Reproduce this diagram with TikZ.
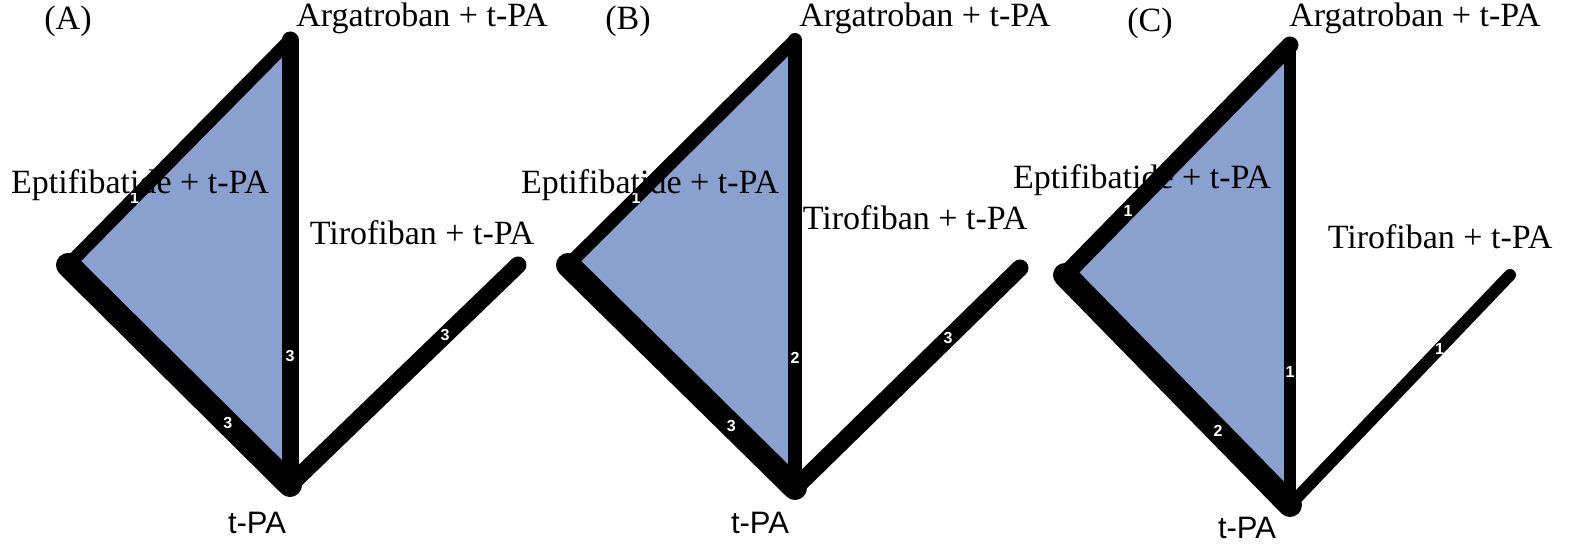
\documentclass[tikz,border=0pt]{standalone}
\usepackage{fontspec}
\setmainfont{Liberation Serif}
\setsansfont{Liberation Sans}
\begin{document}
\begin{tikzpicture}[x=1pt,y=-1pt,
  ed/.style={line cap=round,draw=black},
  num/.style={font=\sffamily\bfseries\fontsize{16}{16}\selectfont,text=white,inner sep=0pt},
  lab/.style={font=\fontsize{34}{34}\selectfont,inner sep=0pt},
  tp/.style={font=\sffamily\fontsize{31}{31}\selectfont,inner sep=0pt}]
\useasboundingbox (0,0) rectangle (1575,545);
\definecolor{fillb}{HTML}{8AA0CF}
% ---------- Panel A
\coordinate (aT) at (290,40); \coordinate (aL) at (68,265);
\coordinate (aB) at (290,485); \coordinate (aR) at (518,265);
\fill[fillb] (aT)--(aL)--(aB)--cycle;
\draw[ed,line width=13] (aT)--(aL) node[num,pos=0.7]{1};
\draw[ed,line width=24] (aL)--(aB) node[num,pos=0.72]{3};
\draw[ed,line width=17] (aT)--(aB) node[num,pos=0.71]{3};
\draw[ed,line width=17] (aB)--(aR) node[num,pos=0.68]{3};
\node[lab] (aLab) at (68,21) {(A)};
\node[lab] (aTl) at (422,18) {Argatroban + t-PA};
\node[lab] (aLl) at (140,185) {Eptifibatide + t-PA};
\node[lab] (aRl) at (422,233) {Tirofiban + t-PA};
\node[tp] (aBl) at (257,523) {t-PA};
% ---------- Panel B
\coordinate (bT) at (795,40); \coordinate (bL) at (568,265);
\coordinate (bB) at (795,488); \coordinate (bR) at (1020,268);
\fill[fillb] (bT)--(bL)--(bB)--cycle;
\draw[ed,line width=13] (bT)--(bL) node[num,pos=0.7]{1};
\draw[ed,line width=24] (bL)--(bB) node[num,pos=0.72]{3};
\draw[ed,line width=14] (bT)--(bB) node[num,pos=0.71]{2};
\draw[ed,line width=17] (bB)--(bR) node[num,pos=0.68]{3};
\node[lab] (bLab) at (628,21) {(B)};
\node[lab] (bTl) at (925,18) {Argatroban + t-PA};
\node[lab] (bLl) at (650,185) {Eptifibatide + t-PA};
\node[lab] (bRl) at (915,218) {Tirofiban + t-PA};
\node[tp] (bBl) at (760,523) {t-PA};
% ---------- Panel C
\coordinate (cT) at (1290,45); \coordinate (cL) at (1065,275);
\coordinate (cB) at (1290,505); \coordinate (cR) at (1510,275);
\fill[fillb] (cT)--(cL)--(cB)--cycle;
\draw[ed,line width=17] (cT)--(cL) node[num,pos=0.72]{1};
\draw[ed,line width=24] (cL)--(cB) node[num,pos=0.68]{2};
\draw[ed,line width=12] (cT)--(cB) node[num,pos=0.71]{1};
\draw[ed,line width=12] (cB)--(cR) node[num,pos=0.68]{1};
\node[lab] (cLab) at (1150,23) {(C)};
\node[lab] (cTl) at (1415,18) {Argatroban + t-PA};
\node[lab] (cLl) at (1142,180) {Eptifibatide + t-PA};
\node[lab] (cRl) at (1440,237) {Tirofiban + t-PA};
\node[tp] (cBl) at (1247,528) {t-PA};
\end{tikzpicture}
\end{document}
